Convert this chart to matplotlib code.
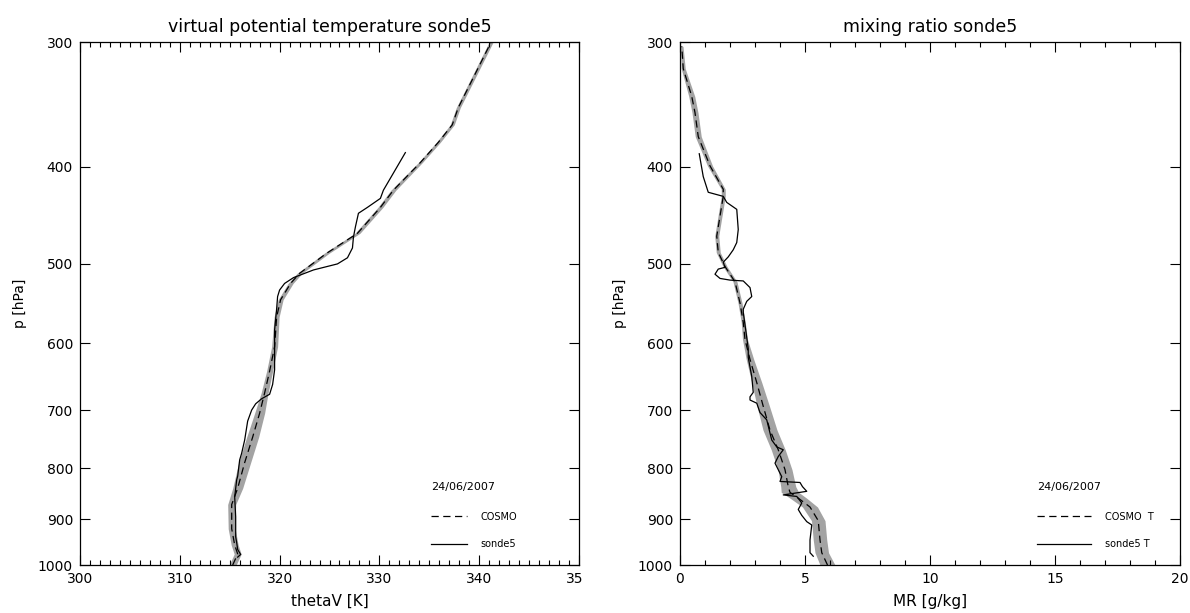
import numpy as np
import matplotlib
matplotlib.use("Agg")
import matplotlib.pyplot as plt
from matplotlib.ticker import MultipleLocator, FixedLocator, NullLocator, FixedFormatter
from matplotlib.transforms import Bbox, TransformedBbox

# --- COSMO virtual potential temperature (levels, hPa / K) and ensemble half-spread
p_cosmo_th = [1000, 975, 955, 920, 870, 838, 790, 745, 705, 673, 640, 605, 565, 543,
              523, 511, 488, 466, 439, 422, 396, 378, 363, 349, 300]
th_cosmo = [315.3, 315.8, 315.5, 315.2, 315.2, 315.8, 316.5, 317.3, 318.0, 318.5, 319.0,
            319.5, 319.7, 320.1, 321.1, 322.0, 324.7, 327.8, 330.1, 331.4, 334.1, 335.9,
            337.3, 337.9, 341.2]
th_spread = [0.35, 0.35, 0.35, 0.35, 0.4, 0.5, 0.6, 0.6, 0.5, 0.35, 0.3, 0.3, 0.25, 0.25,
             0.25, 0.25, 0.25, 0.25, 0.25, 0.25, 0.2, 0.2, 0.2, 0.2, 0.2]

# --- radiosonde 5 virtual potential temperature
p_sonde_th = [982, 976, 965, 950, 937, 895, 855, 822, 815, 785, 773, 750, 718, 700, 690,
              682, 675, 660, 638, 582, 555, 539, 531, 523, 516, 507, 500, 493, 482, 470,
              459, 445, 439, 430, 422, 387]
th_sonde = [315.8, 316.1, 315.8, 315.7, 315.6, 315.6, 315.5, 315.7, 315.8, 316.0, 316.2,
            316.5, 316.8, 317.2, 317.6, 318.2, 319.0, 319.3, 319.5, 319.5, 319.7, 319.8,
            320.0, 320.5, 321.4, 323.4, 325.8, 326.8, 327.3, 327.4, 327.6, 327.9, 328.8,
            330.1, 330.4, 332.6]

# --- COSMO mixing ratio (g/kg)
p_cosmo_mr = [1000, 972, 944, 903, 875, 858, 846, 835, 803, 767, 733, 694, 657, 623, 595,
              572, 547, 521, 503, 487, 469, 448, 428, 421, 399, 373, 353, 340, 319, 303]
mr_cosmo = [5.9, 5.67, 5.6, 5.53, 5.2, 4.75, 4.4, 4.33, 4.2, 3.93, 3.6, 3.33, 3.07, 2.8,
            2.6, 2.53, 2.4, 2.2, 1.8, 1.53, 1.47, 1.6, 1.73, 1.73, 1.2, 0.73, 0.6, 0.47,
            0.13, 0.07]
mr_spread = [0.3, 0.27, 0.27, 0.27, 0.3, 0.33, 0.35, 0.3, 0.28, 0.28, 0.28, 0.25, 0.2,
             0.15, 0.1, 0.08, 0.08, 0.08, 0.08, 0.08, 0.08, 0.08, 0.08, 0.08, 0.1, 0.12,
             0.12, 0.12, 0.08, 0.05]

# --- radiosonde 5 mixing ratio
p_sonde_mr = [980, 972, 944, 912, 905, 892, 880, 867, 854, 851, 844, 835, 827, 825, 816,
              803, 791, 779, 767, 762, 750, 738, 716, 704, 689, 684, 679, 672, 648, 620,
              608, 585, 559, 555, 545, 539, 528, 520, 519, 517, 512, 506, 504, 498, 492,
              484, 476, 462, 441, 434, 428, 424, 409, 388]
mr_sonde = [5.33, 5.2, 5.2, 5.27, 5.07, 4.87, 4.73, 4.87, 4.67, 4.13, 5.07, 4.9, 4.8, 4.0,
            4.07, 3.93, 3.8, 3.93, 4.13, 3.87, 3.67, 3.6, 3.47, 3.2, 3.07, 2.8, 2.8, 2.93,
            2.87, 2.73, 2.73, 2.64, 2.53, 2.53, 2.67, 2.87, 2.8, 2.53, 2.0, 1.6, 1.4, 1.53,
            1.8, 1.73, 1.93, 2.13, 2.27, 2.33, 2.27, 1.87, 1.73, 1.13, 0.93, 0.77]

p_ticks = [300, 400, 500, 600, 700, 800, 900, 1000]
th_ticks = [300, 310, 320, 330, 340, 350]
mr_ticks = [0, 5, 10, 15, 20]
date = "24/06/2007"

W, H = 1190, 613
fig = plt.figure(figsize=(W / 100, H / 100), dpi=100)
plt.rcParams["font.family"] = "DejaVu Sans"

ax1 = fig.add_axes([80 / W, 48 / H, 499 / W, 523 / H])
ax2 = fig.add_axes([680 / W, 48 / H, 500 / W, 523 / H])

grey = "#a3a3a3"
dash = (5.8, 3.6)


def draw_panel(ax, pc, xc, spread, ps, xs, lab_c, lab_s, hlen):
    pc = np.array(pc)
    xc = np.array(xc)
    sp = np.array(spread)
    ax.fill_betweenx(pc, xc - sp, xc + sp, color=grey, lw=0)
    ax.plot(xc, pc, color="k", lw=0.9, dashes=dash, label=lab_c)
    ax.plot(xs, ps, color="k", lw=0.9, label=lab_s)
    ax.set_yscale("log")
    ax.set_ylim(1000, 300)
    ax.yaxis.set_major_locator(FixedLocator(p_ticks))
    ax.yaxis.set_major_formatter(FixedFormatter([str(v) for v in p_ticks]))
    ax.yaxis.set_minor_locator(NullLocator())
    ax.tick_params(which="both", direction="in", top=True, right=True,
                   labelsize=10, pad=5, width=0.8)
    ax.tick_params(which="major", length=7)
    ax.tick_params(which="minor", length=3.5)
    ax.set_ylabel("p [hPa]", fontsize=10, labelpad=8)
    for s in ax.spines.values():
        s.set_linewidth(0.9)
    leg = ax.legend(title=date, loc="upper left", frameon=False, fontsize=7,
                    title_fontsize=8, alignment="left", handlelength=hlen,
                    handletextpad=1.4, labelspacing=1.8, borderpad=0,
                    borderaxespad=0)
    leg._legend_box.sep = 14


draw_panel(ax1, p_cosmo_th, th_cosmo, th_spread, p_sonde_th, th_sonde,
           "COSMO", "sonde5", 3.7)
ax1.set_xlim(300, 350)
ax1.set_xticks(th_ticks)
ax1.xaxis.set_minor_locator(MultipleLocator(1))
ax1.set_xlabel("thetaV [K]", fontsize=11, labelpad=6)
ax1.set_title("virtual potential temperature sonde5", fontsize=12.5, pad=7)
ax1.get_legend().set_bbox_to_anchor((0.703, 0.158), transform=ax1.transAxes)

draw_panel(ax2, p_cosmo_mr, mr_cosmo, mr_spread, p_sonde_mr, mr_sonde,
           "COSMO  T", "sonde5 T", 5.6)
ax2.set_xlim(0, 20)
ax2.set_xticks(mr_ticks)
ax2.xaxis.set_minor_locator(MultipleLocator(1))
ax2.set_xlabel("MR [g/kg]", fontsize=11, labelpad=6)
ax2.set_title("mixing ratio sonde5", fontsize=12.5, pad=7)
ax2.get_legend().set_bbox_to_anchor((0.714, 0.158), transform=ax2.transAxes)

# the last x label of the left panel is cut at the panel border
last = ax1.xaxis.get_major_ticks()[len(th_ticks) - 1].label1
last.set_clip_on(True)
last.set_clip_box(TransformedBbox(Bbox([[0, 0], [583 / W, 1]]), fig.transFigure))

fig.savefig("out.png", dpi=100)
